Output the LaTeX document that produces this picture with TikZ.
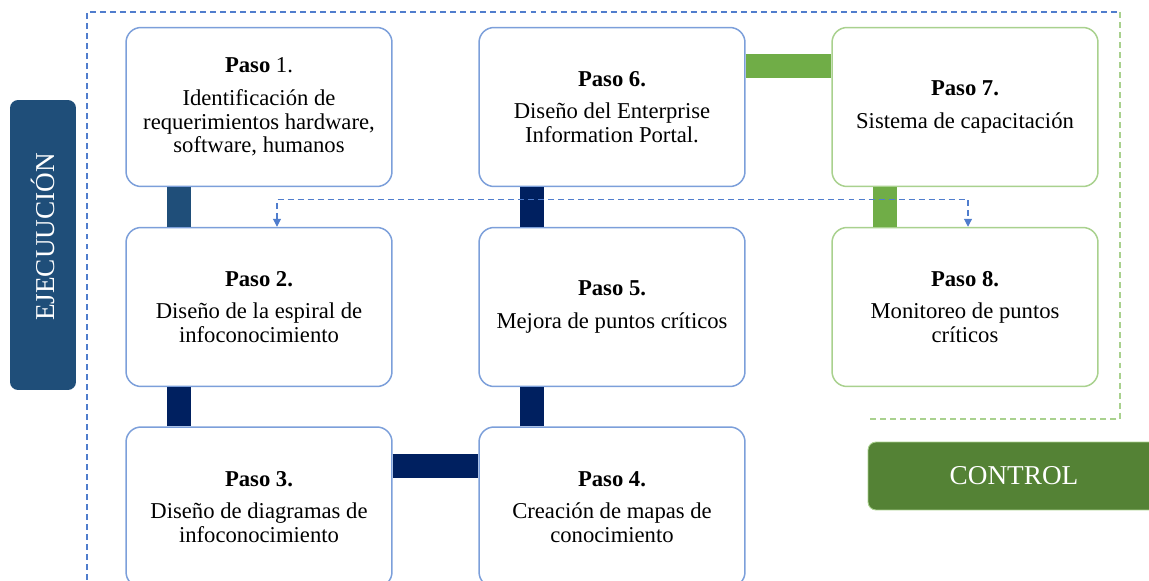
\documentclass[tikz,border=0pt]{standalone}
\usepackage{fontspec}
\setmainfont{Liberation Serif}
\usetikzlibrary{arrows.meta}
\definecolor{pasoblue}{RGB}{124,159,218}
\definecolor{pasogreen}{RGB}{169,209,142}
\definecolor{barsteel}{RGB}{31,78,121}
\definecolor{barnavy}{RGB}{0,32,96}
\definecolor{bargreen}{RGB}{112,173,71}
\definecolor{ctrlgreen}{RGB}{84,130,53}
\definecolor{linkblue}{RGB}{80,125,205}

\begin{document}
\begin{tikzpicture}[x=0.02cm, y=-0.02cm,
  paso/.style={draw=pasoblue, line width=0.85pt, rounded corners=0.3cm, fill=white,
    minimum width=5.32cm, minimum height=3.18cm, align=center,
    font=\fontsize{12.9pt}{13.6pt}\selectfont},
  pasoctrl/.style={paso, draw=pasogreen},
  bar/.style={line width=0.48cm},
  dashes/.style={line width=0.6pt, dash pattern=on 3.4pt off 2.3pt},
  link/.style={dashes, linkblue, {Triangle[width=4.5pt,length=4.5pt]}-{Triangle[width=4.5pt,length=4.5pt]}},
  fase/.style={rounded corners=0.16cm, text=white, font=\fontsize{15.5pt}{16pt}\selectfont}]
\useasboundingbox (0,0) rectangle (1149,581);

% Marco
\draw[dashes, linkblue] (87,600) -- (87,12) -- (1120,12);
\draw[dashes, pasogreen] (1120,12) -- (1120,419) -- (868,419);

% Fases
\node[fase, fill=barsteel, rotate=90, minimum width=5.8cm, minimum height=1.32cm] (ejec) at (43,245) {\hspace*{0.32cm}EJECUUCIÓN};
\node[fase, fill=ctrlgreen, draw=pasogreen, line width=0.5pt, minimum width=5.84cm, minimum height=1.36cm] (ctrl) at (1014,476) {CONTROL};

% Pasos
\node[paso] (p1) at (259,107) {\textbf{Paso} 1.\\[5pt] Identificación de\\ requerimientos hardware,\\ software, humanos};
\node[paso] (p2) at (259,307) {\textbf{Paso 2.}\\[5pt] Diseño de la espiral de\\ infoconocimiento};
\node[paso, minimum height=3.2cm] (p3) at (259,507) {\textbf{Paso 3.}\\[5pt] Diseño de diagramas de\\ infoconocimiento};
\node[paso, minimum height=3.2cm] (p4) at (612,507) {\textbf{Paso 4.}\\[5pt] Creación de mapas de\\ conocimiento};
\node[paso] (p5) at (612,307) {\textbf{Paso 5.}\\[5pt] Mejora de puntos críticos};
\node[paso] (p6) at (612,107) {\textbf{Paso 6.}\\[5pt] Diseño del Enterprise\\ Information Portal.};
\node[pasoctrl] (p7) at (965,107) {\textbf{Paso 7.}\\[5pt] Sistema de capacitación};
\node[pasoctrl] (p8) at (965,307) {\textbf{Paso 8.}\\[5pt] Monitoreo de puntos\\ críticos};

% Uniones
\draw[bar, barsteel] ([xshift=-1.6cm]p1.south) -- ([xshift=-1.6cm]p2.north);
\draw[bar, barnavy] ([xshift=-1.6cm]p2.south) -- ([xshift=-1.6cm]p3.north);
\draw[bar, barnavy] ([yshift=0.82cm]p3.east) -- ([yshift=0.82cm]p4.west);
\draw[bar, barnavy] ([xshift=-1.6cm]p4.north) -- ([xshift=-1.6cm]p5.south);
\draw[bar, barnavy] ([xshift=-1.6cm]p5.north) -- ([xshift=-1.6cm]p6.south);
\draw[bar, bargreen] ([yshift=0.82cm]p6.east) -- ([yshift=0.82cm]p7.west);
\draw[bar, bargreen] ([xshift=-1.6cm]p7.south) -- ([xshift=-1.6cm]p8.north);

% Retroalimentacion
\draw[link] ([xshift=0.36cm]p2.north) -- ++(0,-27) -| ([xshift=0.06cm]p8.north);
\end{tikzpicture}
\end{document}
